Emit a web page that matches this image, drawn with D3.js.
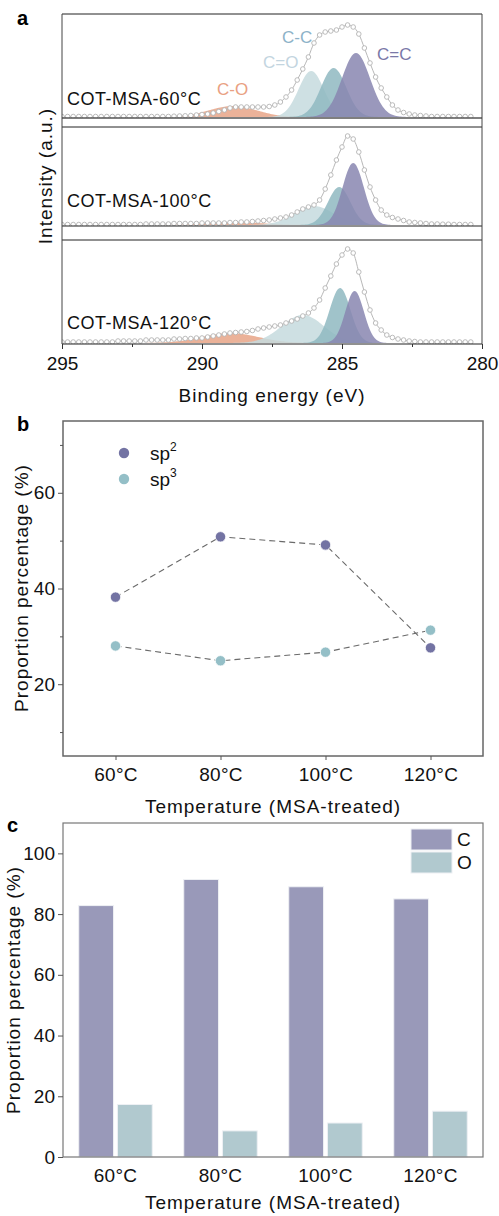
<!DOCTYPE html>
<html><head><meta charset="utf-8">
<script src="https://cdn.jsdelivr.net/npm/d3@7"></script>
<style>
body{margin:0;background:#fff;}
svg text{font-family:"Liberation Sans",Arial,sans-serif;}
</style></head>
<body>
<svg id="chart" width="499" height="1216"></svg>
<script>
// ---------------- DATA ----------------
// Panel a: XPS C1s spectra, energies 295.0 -> 280.4 eV in 0.2 eV steps
const eStart = 295.0, eStep = 0.2;
const spec60 = [0.5,0.5,0.5,0.5,0.5,0.5,0.5,0.5,0.5,0.5,0.5,0.5,0.5,0.5,0.5,0.5,0.5,0.5,0.5,0.5,
  0.8,1,1.2,1.5,2,2.5,3,4,5.5,7,9,10,10,10,10,10,10,10.5,12,15,
  20,27,37,48,60,74,82,85,86,87,90,92,90,83,69,54,40,29,20,12,
  7,4.5,3,2,1.5,1,0.5,0.5,0.5,0.5,0.5,0.5,0.5,0.5];
const spec100 = [0.5,0.5,0.5,0.5,0.5,0.5,0.5,0.5,0.5,0.5,0.5,0.5,0.5,0.5,0.5,1,1,1,1,1,
  1.5,1.5,1.5,1.5,1.5,2,2,2,2,2,2.5,2.5,3,3,3.5,4,4.5,5,6,7,
  8,10,13,16,18,20,25,36,50,65,78,89,86,73,55,38,25,15,10,7.5,
  6,4.5,3,2.5,2,1.5,1,1,0.8,0.8,0.5,0.5,0.5,0.5];
const spec120 = [1,1,1,1,1,1,1,1,1,1,2,2,2,2,2,3,3,3,3,3,
  4,4,4.5,4.5,5,5,6,7,8,9,10,10.5,11,11.5,12.5,14,15,16,17,18,
  20,22,24,27,30,35,43,55,67,79,88,94,90,71,51,33,20,13,8,5.5,
  4,3,2,1.5,1,1,1,1,1,1,1,1,1,1];
const sampleLabels = ["COT-MSA-60°C","COT-MSA-100°C","COT-MSA-120°C"];
const peakNames = ["C-O","C=O","C-C","C=C"];
// fitted component parameters: center (eV), height, sigma (eV)
const peakCenters = [[288.9,286.1,285.3,284.5],[288.9,286.0,285.1,284.6],[289.0,286.4,285.07,284.55]];
const peakHeights = [[11,46,49,64],[3,19,38,62],[10,28,55,52]];
const peakSigmas  = [[0.85,0.45,0.45,0.5],[1.0,0.7,0.4,0.38],[1.0,0.75,0.37,0.33]];
const energyTicks = [295,290,285,280];
const energyMinor = [292.5,287.5,282.5];

// Panel b
const temps = ["60°C","80°C","100°C","120°C"];
const sp2 = [38.2,50.8,49.1,27.6];
const sp3 = [28.0,24.9,26.7,31.3];
const bTicks = [20,40,60];
const bMinor = [10,30,50,70];

// Panel c
const cVals = [82.8,91.4,89.0,85.0];
const oVals = [17.3,8.6,11.2,15.1];
const cTicks = [0,20,40,60,80,100];

// ---------------- DRAW ----------------
const svg = d3.select("#chart");
const L = 63, R = 483;
const font = "Liberation Sans, Arial, sans-serif";

// ===== Panel a =====
const xE = d3.scaleLinear().domain([295,280]).range([62,482]);
const panels = [
  {top:14, bot:118, base:117, data:spec60, labelY:105},
  {top:127, bot:226, base:225, data:spec100, labelY:207},
  {top:240, bot:344, base:343, data:spec120, labelY:329}
];
const peakColors = ["#e8a587","#c6dade","#8fb9c1","#8886b0"];
const defs = svg.append("defs");
panels.forEach((p,pi)=>{
  defs.append("clipPath").attr("id","clip"+pi).append("rect")
    .attr("x",62).attr("y",p.top).attr("width",420).attr("height",p.bot-p.top);
  const y = d3.scaleLinear().domain([0,100]).range([p.base,p.base-100]);
  const g = svg.append("g").attr("clip-path","url(#clip"+pi+")");
  const grid = d3.range(0,301).map(i=>295 - i*0.05);
  peakNames.forEach((n,k)=>{
    const c = peakCenters[pi][k], h = peakHeights[pi][k], s = peakSigmas[pi][k];
    const pts = grid.map(e=>[e, h*Math.exp(-((e-c)*(e-c))/(2*s*s))]);
    g.append("path").datum(pts)
      .attr("d", d3.area().x(d=>xE(d[0])).y0(y(0)).y1(d=>y(d[1])))
      .attr("fill",peakColors[k]).attr("fill-opacity",0.85);
  });
  const pts = p.data.map((v,i)=>[eStart - i*eStep, v]);
  g.append("path").datum(pts)
    .attr("d", d3.line().x(d=>xE(d[0])).y(d=>y(d[1])).curve(d3.curveMonotoneX))
    .attr("fill","none").attr("stroke","#b8b8b8").attr("stroke-width",1);
  g.selectAll("circle.dp").data(pts).enter().append("circle")
    .attr("cx",d=>xE(d[0])).attr("cy",d=>y(d[1])).attr("r",2.3)
    .attr("fill","#fff").attr("stroke","#b4b4b4").attr("stroke-width",0.9);
  svg.append("text").attr("x",67).attr("y",p.labelY).text(sampleLabels[pi])
    .attr("font-size",18).attr("letter-spacing",0.5).attr("fill","#111");
});
// frame lines
[14,118,127,226,240,344].forEach((yy,i)=>{
  svg.append("line").attr("x1",62).attr("x2",482).attr("y1",yy).attr("y2",yy)
    .attr("stroke", i===1? "#555":"#222").attr("stroke-width", i===1?1.6:1);
});
[62,482].forEach(xx=>svg.append("line").attr("x1",xx).attr("x2",xx).attr("y1",14).attr("y2",344)
  .attr("stroke","#444").attr("stroke-width",1));
// energy axis
const axA = svg.append("g").attr("transform","translate(0,344)");
axA.call(d3.axisBottom(xE).tickValues(energyTicks).tickSize(5).tickPadding(8).tickFormat(d3.format("d")));
axA.select(".domain").remove();
axA.selectAll("text").attr("font-size",19).attr("font-family",font).attr("fill","#111");
axA.selectAll("line").attr("stroke","#333");
const axAm = svg.append("g").attr("transform","translate(0,344)");
axAm.call(d3.axisBottom(xE).tickValues(energyMinor).tickSize(3).tickFormat(""));
axAm.select(".domain").remove();
axAm.selectAll("line").attr("stroke","#333");
svg.append("text").attr("x",272).attr("y",402).attr("text-anchor","middle")
  .attr("font-size",19).attr("letter-spacing",1).attr("fill","#111").text("Binding energy (eV)");
svg.append("text").attr("transform","translate(52,176) rotate(-90)").attr("text-anchor","middle")
  .attr("font-size",19).attr("letter-spacing",1).attr("fill","#111").text("Intensity (a.u.)");
// peak labels (panel 1)
const peakLabelPos = [[217,95,"#e9a082"],[263,68,"#c3d5e0"],[282,43,"#8db2c8"],[377,60,"#7a78a8"]];
peakNames.forEach((n,k)=>{
  svg.append("text").attr("x",peakLabelPos[k][0]).attr("y",peakLabelPos[k][1])
    .attr("font-size",17).attr("fill",peakLabelPos[k][2]).text(n);
});
svg.append("text").attr("x",17).attr("y",25).attr("font-size",20).attr("font-weight","bold").text("a");

// ===== Panel b =====
const bTop = 421, bBot = 756;
const xB = d3.scalePoint().domain(temps).range([L,R]).padding(0.5);
const yB = d3.scaleLinear().domain([5,75]).range([bBot,bTop]);
svg.append("rect").attr("x",L).attr("y",bTop).attr("width",R-L).attr("height",bBot-bTop)
  .attr("fill","none").attr("stroke","#666").attr("stroke-width",1.5);
const ayB = svg.append("g").attr("transform",`translate(${L},0)`)
  .call(d3.axisLeft(yB).tickValues(bTicks).tickSize(5).tickPadding(3));
ayB.select(".domain").remove();
ayB.selectAll("text").attr("font-size",19).attr("font-family",font).attr("fill","#111");
ayB.selectAll("line").attr("stroke","#555");
const ayBm = svg.append("g").attr("transform",`translate(${L},0)`)
  .call(d3.axisLeft(yB).tickValues(bMinor).tickSize(3).tickFormat(""));
ayBm.select(".domain").remove(); ayBm.selectAll("line").attr("stroke","#555");
const axB = svg.append("g").attr("transform",`translate(0,${bBot})`)
  .call(d3.axisBottom(xB).tickSize(4).tickPadding(8));
axB.select(".domain").remove();
axB.selectAll("text").attr("font-size",19).attr("font-family",font).attr("fill","#111").attr("letter-spacing",0.3);
axB.selectAll("line").attr("stroke","#555");
const lineB = d3.line().x((d,i)=>xB(temps[i])).y(d=>yB(d));
[[sp2,"#7373a3"],[sp3,"#94bfc7"]].forEach(([vals,col])=>{
  svg.append("path").datum(vals).attr("d",lineB).attr("fill","none")
    .attr("stroke","#6a6a6a").attr("stroke-width",1.1).attr("stroke-dasharray","6,4");
});
[[sp2,"#7373a3"],[sp3,"#94bfc7"]].forEach(([vals,col])=>{
  svg.selectAll(null).data(vals).enter().append("circle")
    .attr("cx",(d,i)=>xB(temps[i])).attr("cy",d=>yB(d)).attr("r",5.2)
    .attr("fill",col).attr("stroke","#fff").attr("stroke-width",0.8);
});
// legend b
[["2","#7373a3",453],["3","#94bfc7",479]].forEach(([sup,col,cy])=>{
  svg.append("circle").attr("cx",124).attr("cy",cy).attr("r",5.2).attr("fill",col);
  const t = svg.append("text").attr("x",150).attr("y",cy+7).attr("font-size",19).attr("fill","#111");
  t.append("tspan").text("sp");
  t.append("tspan").attr("font-size",12).attr("dy",-9).text(sup);
});
svg.append("text").attr("transform","translate(28,588) rotate(-90)").attr("text-anchor","middle")
  .attr("font-size",19).attr("letter-spacing",1).attr("fill","#111").text("Proportion percentage (%)");
svg.append("text").attr("x",273).attr("y",813).attr("text-anchor","middle")
  .attr("font-size",19).attr("letter-spacing",1).attr("fill","#111").text("Temperature (MSA-treated)");
svg.append("text").attr("x",17).attr("y",431).attr("font-size",20).attr("font-weight","bold").text("b");

// ===== Panel c =====
const cTop = 823, cBot = 1157;
const x0 = d3.scaleBand().domain(temps).range([L,R]).paddingInner(0.3).paddingOuter(0.15);
const x1 = d3.scaleBand().domain(["C","O"]).range([0,x0.bandwidth()]).paddingInner(0.1);
const yC = d3.scaleLinear().domain([0,110]).range([cBot,cTop]);
const barColors = {C:"#9999b9", O:"#b1c9cf"};
temps.forEach((t,i)=>{
  [["C",cVals[i]],["O",oVals[i]]].forEach(([k,v])=>{
    svg.append("rect").attr("x",x0(t)+x1(k)).attr("y",yC(v))
      .attr("width",x1.bandwidth()).attr("height",yC(0)-yC(v))
      .attr("fill",barColors[k]).attr("stroke","#eef0f4").attr("stroke-width",1);
  });
});
svg.append("rect").attr("x",L).attr("y",cTop).attr("width",R-L).attr("height",cBot-cTop)
  .attr("fill","none").attr("stroke","#777").attr("stroke-width",1.2);
const ayC = svg.append("g").attr("transform",`translate(${L},0)`)
  .call(d3.axisLeft(yC).tickValues(cTicks).tickSize(5).tickPadding(3));
ayC.select(".domain").remove();
ayC.selectAll("text").attr("font-size",19).attr("font-family",font).attr("fill","#111");
ayC.selectAll("line").attr("stroke","#555");
const axC = svg.append("g").attr("transform",`translate(0,${cBot})`)
  .call(d3.axisBottom(x0).tickSize(0).tickPadding(12));
axC.select(".domain").remove();
axC.selectAll("text").attr("font-size",19).attr("font-family",font).attr("fill","#111").attr("letter-spacing",0.3);
// legend c
[["C",829],["O",852]].forEach(([k,yy])=>{
  svg.append("rect").attr("x",411).attr("y",yy).attr("width",41).attr("height",21)
    .attr("fill",barColors[k]).attr("stroke","#eef0f4").attr("stroke-width",1);
  svg.append("text").attr("x",457).attr("y",yy+17).attr("font-size",19).attr("fill","#111").text(k);
});
svg.append("text").attr("transform","translate(20,990) rotate(-90)").attr("text-anchor","middle")
  .attr("font-size",19).attr("letter-spacing",1).attr("fill","#111").text("Proportion percentage (%)");
svg.append("text").attr("x",273).attr("y",1209).attr("text-anchor","middle")
  .attr("font-size",19).attr("letter-spacing",1).attr("fill","#111").text("Temperature (MSA-treated)");
svg.append("text").attr("x",7).attr("y",832).attr("font-size",20).attr("font-weight","bold").text("c");
</script>
</body></html>
